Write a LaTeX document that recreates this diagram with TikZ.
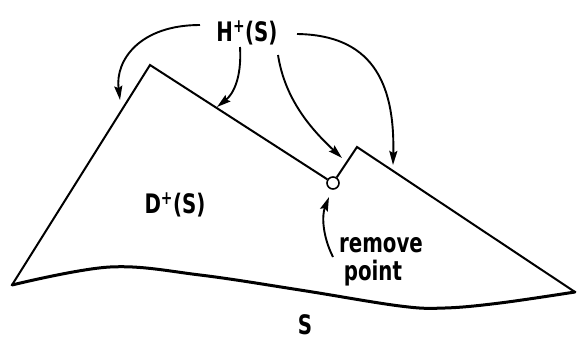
\documentclass[tikz,border=0pt]{standalone}
\usepackage{fontspec}
\setmainfont{DejaVu Sans Condensed}
\usetikzlibrary{arrows.meta,calc}
\newcommand{\talltext}[1]{\scalebox{1}[1.22]{#1}}
\begin{document}
\begin{tikzpicture}[x=1pt,y=-1pt,
  edge/.style={line width=2pt, line join=miter},
  pointer/.style={line width=1.9pt, -{Stealth[length=14pt,width=8pt,inset=2pt]}},
  lbl/.style={font=\fontsize{22}{26}\selectfont\bfseries, inner sep=3pt},
]
\useasboundingbox (0,0) rectangle (577,345);
% outline points
\coordinate (L) at (12,285);
\coordinate (P1) at (150,65);
\coordinate (P2) at (357,147);
\coordinate (R) at (575,292);
\node[circle, draw, line width=1.6pt, minimum size=12pt, inner sep=0pt] (hole) at (333,183) {};
\draw[edge] (L) -- (P1) -- (hole);
\draw[edge] (hole) -- (P2) -- (R);
% surface S
\draw[line width=3pt, line cap=round] plot[smooth, tension=0.6] coordinates {(L) (110,267) (200,275) (300,290) (400,306) (445,308) (500,303) (R)};
% labels
\node[lbl] (H) at (247,33) {\talltext{H\textsuperscript{+}(S)}};
\node[lbl] (D) at (175,205) {\talltext{D\textsuperscript{+}(S)}};
\node[lbl] (rem) at (381,245) {\talltext{remove}};
\node[lbl] (pt) at (373,273) {\talltext{point}};
\node[lbl] (S) at (305,325) {\talltext{S}};
% arrow tips
\coordinate (a1) at (120,100);
\coordinate (a2) at (217,107);
\coordinate (a3) at (342,158);
\coordinate (a4) at (393,165);
\coordinate (a5) at (329,197);
\draw[pointer] (200,25) .. controls (140,25) and (115,60) .. (a1);
\draw[pointer] (240,47) .. controls (242,80) and (232,95) .. (a2);
\draw[pointer] (278,55) .. controls (285,100) and (312,130) .. (a3);
\draw[pointer] (297,34) .. controls (370,35) and (395,80) .. (a4);
\draw[pointer] (333,257) .. controls (322,235) and (322,215) .. (a5);
\end{tikzpicture}
\end{document}
